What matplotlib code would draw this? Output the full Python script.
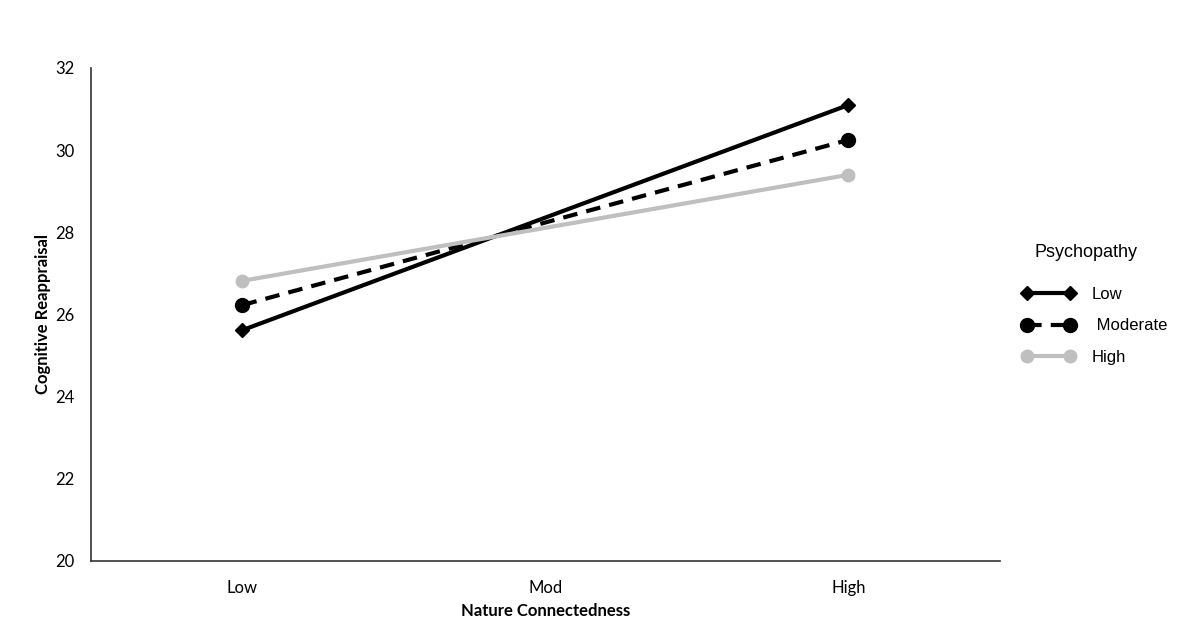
import matplotlib.pyplot as plt

# categories on the x axis
categories = ["Low", "Mod", "High"]
x_points = [0, 2]  # lines join only the Low and High ends

# cognitive reappraisal per psychopathy level
low_psy = [25.62, 31.10]
mod_psy = [26.23, 30.25]
high_psy = [26.82, 29.40]

series_names = ["Low", " Moderate", "High"]

fig = plt.figure(figsize=(11.83, 6.39), dpi=100)
ax = fig.add_axes([0.0769, 0.1221, 0.7684, 0.7715])

ax.plot(x_points, low_psy, color="black", lw=3, marker="D", markersize=7,
        label=series_names[0])
ax.plot(x_points, mod_psy, color="black", lw=3, ls=(0, (3.5, 2.2)), marker="o",
        markersize=10, label=series_names[1])
ax.plot(x_points, high_psy, color="#bfbfbf", lw=3, marker="o", markersize=9,
        label=series_names[2])

ax.set_xlim(-0.5, 2.5)
ax.set_ylim(20, 32)
ax.set_xticks(range(len(categories)))
ax.set_xticklabels(categories)
ax.set_yticks(range(20, 33, 2))
ax.tick_params(length=0, labelsize=12, pad=14)
for lab in ax.get_xticklabels() + ax.get_yticklabels():
    lab.set_family("Lato")
ax.tick_params(axis="y", pad=12)

for s in ["top", "right"]:
    ax.spines[s].set_visible(False)
for s in ["left", "bottom"]:
    ax.spines[s].set_color("#333333")
    ax.spines[s].set_linewidth(1.2)

ax.set_xlabel("Nature Connectedness", family="Lato", fontweight="bold",
              fontsize=12, labelpad=5)
ax.set_ylabel("Cognitive Reappraisal", family="Lato", fontweight="bold",
              fontsize=12, labelpad=3)

fig.text(1035 / 1183, 1 - 253 / 639, "Psychopathy", family="Liberation Sans",
         fontsize=13, va="center", ha="left")
leg = fig.legend(loc="upper left", bbox_to_anchor=(1010 / 1183, 1 - 275 / 639),
                 frameon=False, numpoints=2, handlelength=3.2, labelspacing=1.0,
                 handletextpad=1.0, borderpad=0.2,
                 prop={"family": "Liberation Sans", "size": 12})

fig.savefig("out.png", dpi=100)
